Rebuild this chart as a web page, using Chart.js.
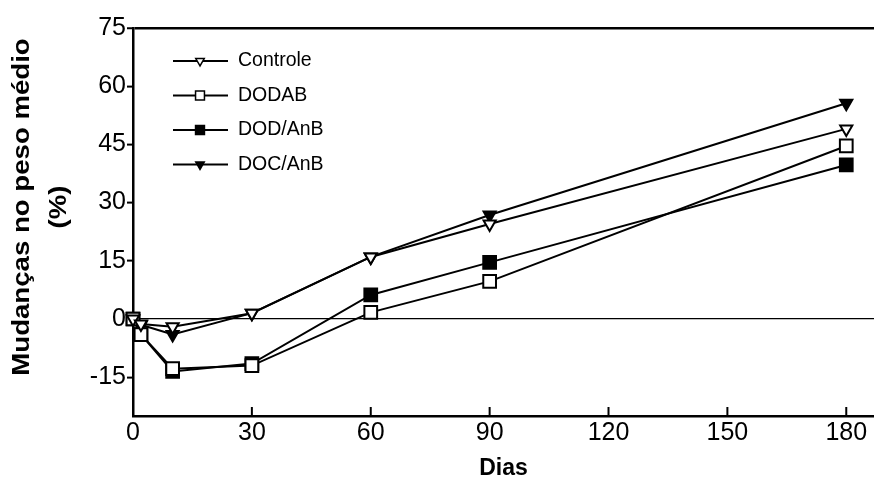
<!DOCTYPE html>
<html>
<head>
<meta charset="utf-8">
<script src="https://cdn.jsdelivr.net/npm/chart.js@4.4.0/dist/chart.umd.min.js"></script>
<style>
  html, body { margin: 0; padding: 0; background: #fff; }
  #wrap { width: 874px; height: 484px; }
</style>
</head>
<body>
<div id="wrap"><canvas id="c" width="874" height="484"></canvas></div>
<script>
// data (corrected for its slight tilt)
const DAYS = [0, 2, 10, 30, 60, 90, 180];
const CONTROLE = [0, -1.3, -2, 1.5, 16, 24.5, 49];
const DODAB    = [0, -4, -12.8, -12, 1.7, 9.7, 44.6];
const DOD_ANB  = [0, -4, -13.5, -11.5, 6.2, 14.6, 39.7];
const DOC_ANB  = [0, -1.5, -4, 1.5, 16, 26.8, 55.6];

const SERIES_NAMES = ['Controle', 'DODAB', 'DOD/AnB', 'DOC/AnB'];
const X_TICKS = [0, 30, 60, 90, 120, 150, 180];
const Y_TICKS = [-15, 0, 15, 30, 45, 60, 75];

const FONT = "'Liberation Sans', Arial, sans-serif";

const MARKERS = [
  { style: 'triangle', rot: 180, r: 7, fill: '#fff' },
  { style: 'rect', rot: 0, r: 9, fill: '#fff' },
  { style: 'rect', rot: 0, r: 9, fill: '#000' },
  { style: 'triangle', rot: 180, r: 7, fill: '#000' }
];

const seriesValues = [CONTROLE, DODAB, DOD_ANB, DOC_ANB];

const datasets = seriesValues.map((vals, i) => ({
  label: SERIES_NAMES[i],
  data: DAYS.map((d, k) => ({ x: d, y: vals[k] })),
  borderColor: '#000', borderWidth: 2, tension: 0, fill: false,
  pointStyle: MARKERS[i].style, pointRotation: MARKERS[i].rot, pointRadius: MARKERS[i].r,
  pointBackgroundColor: MARKERS[i].fill, pointBorderColor: '#000', pointBorderWidth: 2,
  clip: false
}));

// inside tick marks on the x axis
const xTickMarks = {
  id: 'xTickMarks',
  afterDraw(chart) {
    const { ctx, chartArea, scales } = chart;
    ctx.save();
    ctx.strokeStyle = '#000'; ctx.lineWidth = 2;
    X_TICKS.forEach(v => {
      if (v === 0) return;
      const px = scales.x.getPixelForValue(v);
      ctx.beginPath(); ctx.moveTo(px, chartArea.bottom); ctx.lineTo(px, chartArea.bottom - 9); ctx.stroke();
    });
    ctx.restore();
  }
};

// two-line rotated y title
const yTitle = {
  id: 'yTitle',
  afterDraw(chart) {
    const ctx = chart.ctx;
    ctx.save();
    ctx.fillStyle = '#000';
    ctx.font = 'bold 23px ' + FONT;
    ctx.textAlign = 'center'; ctx.textBaseline = 'middle';
    ctx.translate(23, 207); ctx.rotate(-Math.PI / 2); ctx.scale(1.2, 1);
    ctx.fillText('Mudanças no peso médio', 0, 0);
    ctx.fillText('(%)', 0, 37);
    ctx.restore();
  }
};

// legend with line + marker, inside the plot
const lineLegend = {
  id: 'lineLegend',
  afterDraw(chart) {
    const ctx = chart.ctx;
    ctx.save();
    chart.data.datasets.forEach((ds, i) => {
      const y = 61 + i * 34.5;
      ctx.strokeStyle = '#000'; ctx.lineWidth = 2;
      ctx.beginPath(); ctx.moveTo(173, y); ctx.lineTo(228, y); ctx.stroke();
      ctx.fillStyle = ds.pointBackgroundColor; ctx.strokeStyle = '#000'; ctx.lineWidth = 1.5;
      Chart.helpers.drawPoint(ctx, { pointStyle: ds.pointStyle, rotation: ds.pointRotation, radius: ds.pointRadius * 0.7, borderWidth: 1.5 }, 200, y);
      ctx.fillStyle = '#000';
      ctx.font = '19.5px ' + FONT;
      ctx.textAlign = 'left'; ctx.textBaseline = 'middle';
      ctx.fillText(ds.label, 238, y);
    });
    ctx.restore();
  }
};

new Chart(document.getElementById('c'), {
  type: 'line',
  data: { datasets },
  plugins: [xTickMarks, yTitle, lineLegend],
  options: {
    responsive: false, animation: false, devicePixelRatio: 1,
    layout: { autoPadding: false, padding: { top: 28, left: 0, right: 0, bottom: 0 } },
    plugins: { legend: { display: false }, tooltip: { enabled: false } },
    scales: {
      x: {
        type: 'linear', min: 0, max: 187,
        afterBuildTicks: s => { s.ticks = X_TICKS.map(v => ({ value: v })); },
        afterFit: s => { s.height = 68; },
        grid: { drawOnChartArea: false, drawTicks: false, color: 'transparent' },
        border: { display: true, color: '#000', width: 2.5 },
        ticks: { color: '#000', font: { family: FONT, size: 25 }, padding: 2, maxRotation: 0 },
        title: { display: true, text: 'Dias', color: '#000', font: { family: FONT, size: 23, weight: 'bold' }, padding: { top: 0, bottom: 2 } }
      },
      y: {
        type: 'linear', min: -25, max: 75,
        afterBuildTicks: s => { s.ticks = Y_TICKS.map(v => ({ value: v })); },
        afterFit: s => { s.width = 133; },
        grid: {
          color: c => (c.tick && (c.tick.value === 0 || c.tick.value === 75)) ? '#000' : 'transparent',
          lineWidth: c => (c.tick && c.tick.value === 75) ? 2.5 : 1.2,
          tickColor: '#000', tickLength: 6, tickWidth: 2
        },
        border: { display: true, color: '#000', width: 2.5 },
        ticks: { color: '#000', font: { family: FONT, size: 25 }, padding: 1 }
      }
    }
  }
});
</script>
</body>
</html>
